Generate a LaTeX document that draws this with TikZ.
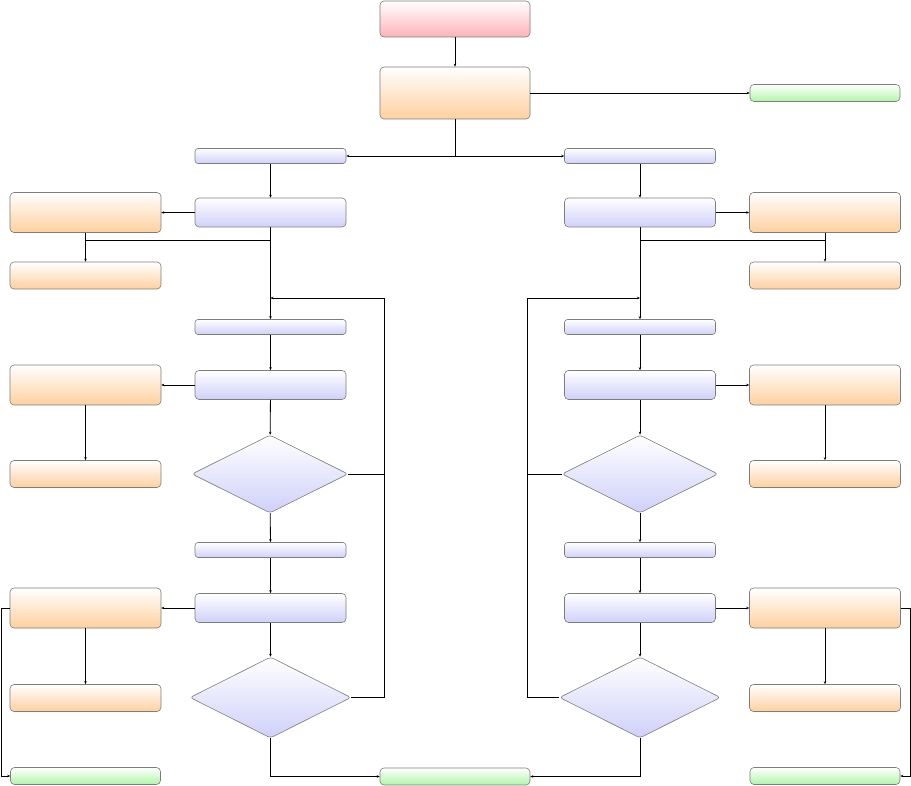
\documentclass[tikz,border=0pt]{standalone}
\usetikzlibrary{shapes.geometric,arrows.meta}
\definecolor{cred}{RGB}{255,178,184}
\definecolor{corange}{RGB}{255,208,158}
\definecolor{cblue}{RGB}{208,208,250}
\definecolor{cgreen}{RGB}{176,245,168}
\definecolor{cborder}{RGB}{125,125,125}
\tikzset{
  base/.style={draw=cborder, line width=0.6pt, rounded corners=4pt, inner sep=0pt, top color=white},
  redbox/.style={base, bottom color=cred, minimum width=150pt, minimum height=36pt},
  orabig/.style={base, bottom color=corange, minimum width=150pt, minimum height=52pt},
  orabox/.style={base, bottom color=corange, minimum width=151pt, minimum height=40pt},
  orasmall/.style={base, bottom color=corange, minimum width=151pt, minimum height=27pt},
  greenbox/.style={base, bottom color=cgreen, minimum width=150pt, minimum height=17pt},
  bluethin/.style={base, rounded corners=3pt, bottom color=cblue, minimum width=151pt, minimum height=15pt},
  bluebox/.style={base, bottom color=cblue, minimum width=151pt, minimum height=29pt},
  dec/.style={base, diamond, rounded corners=3pt, bottom color=cblue, minimum width=156pt, minimum height=78pt},
  decbig/.style={dec, minimum width=161pt, minimum height=81pt},
  arr/.style={-{Stealth[length=3pt,width=2.5pt]}, line width=0.8pt},
  ln/.style={line width=0.8pt}
}
\begin{document}
\begin{tikzpicture}[x=1pt,y=-1pt]
\useasboundingbox (0,0) rectangle (911,786);
% top
\node[redbox] (start) at (455,19) {};
\node[orabig] (top) at (455,93) {};
\node[greenbox] (gtop) at (825,93) {};
% left column
\node[bluethin] (L1) at (270.5,156) {};
\node[bluebox] (L2) at (270.5,212.5) {};
\node[orabox] (O1) at (85.5,212.5) {};
\node[orasmall] (O2) at (85.5,275.5) {};
\node[bluethin] (L3) at (270.5,327) {};
\node[bluebox] (L4) at (270.5,385) {};
\node[orabox] (O3) at (85.5,385) {};
\node[orasmall] (O4) at (85.5,474) {};
\node[dec] (D1) at (270,474) {};
\node[bluethin] (L5) at (270.5,550) {};
\node[bluebox] (L6) at (270.5,608) {};
\node[orabox] (O5) at (85.5,608) {};
\node[orasmall] (O6) at (85.5,698) {};
\node[decbig] (D2) at (270.5,697.5) {};
\node[greenbox] (gL) at (85.5,776) {};
\node[greenbox] (gB) at (455,776.5) {};
% right column
\node[bluethin] (R1) at (640,156) {};
\node[bluebox] (R2) at (640,212.5) {};
\node[orabox] (P1) at (825,212.5) {};
\node[orasmall] (P2) at (825,275.5) {};
\node[bluethin] (R3) at (640,327) {};
\node[bluebox] (R4) at (640,385) {};
\node[orabox] (P3) at (825,385) {};
\node[orasmall] (P4) at (825,474) {};
\node[dec] (E1) at (640,474) {};
\node[bluethin] (R5) at (640,550) {};
\node[bluebox] (R6) at (640,608) {};
\node[orabox] (P5) at (825,608) {};
\node[orasmall] (P6) at (825,698) {};
\node[decbig] (E2) at (640,697.5) {};
\node[greenbox] (gR) at (825,776) {};
% junction coordinates
\coordinate (j0) at (455,156);
\coordinate (jL) at (270.5,240);
\coordinate (jR) at (640,240);
\coordinate (lL) at (384,298);
\coordinate (mL) at (270.5,298);
\coordinate (lR) at (527,298);
\coordinate (mR) at (640,298);
\coordinate (xL) at (1,608);
\coordinate (xR) at (910,608);
% top connectors
\draw[arr] (start) -- (top);
\draw[arr] (top) -- (gtop);
\draw[arr] (top.south) -- (j0) -- (L1.east);
\draw[arr] (j0) -- (R1.west);
% left connectors
\draw[arr] (L1) -- (L2);
\draw[arr] (L2) -- (O1);
\draw[arr] (jL) -| (O2.north);
\draw[ln] (O1.south) -- (O1.south|-jL);
\draw[arr] (L2) -- (L3);
\draw[arr] (D1.east) -- (D1.east-|lL) -- (lL) -- (mL);
\draw[ln] (D2.east) -- (D2.east-|lL) -- (D1.east-|lL);
\draw[arr] (L3) -- (L4);
\draw[arr] (L4) -- (O3);
\draw[arr] (O3) -- (O4);
\draw[arr] (L4) -- (D1);
\draw[arr] (D1) -- (L5);
\draw[arr] (L5) -- (L6);
\draw[arr] (L6) -- (O5);
\draw[arr] (O5) -- (O6);
\draw[arr] (L6) -- (D2);
\draw[arr] (D2.south) |- (gB.west);
\draw[arr] (O5.west) -- (xL) |- (gL.west);
% right connectors
\draw[arr] (R1) -- (R2);
\draw[arr] (R2) -- (P1);
\draw[arr] (jR) -| (P2.north);
\draw[ln] (P1.south) -- (P1.south|-jR);
\draw[arr] (R2) -- (R3);
\draw[arr] (E1.west) -- (E1.west-|lR) -- (lR) -- (mR);
\draw[ln] (E2.west) -- (E2.west-|lR) -- (E1.west-|lR);
\draw[arr] (R3) -- (R4);
\draw[arr] (R4) -- (P3);
\draw[arr] (P3) -- (P4);
\draw[arr] (R4) -- (E1);
\draw[arr] (E1) -- (R5);
\draw[arr] (R5) -- (R6);
\draw[arr] (R6) -- (P5);
\draw[arr] (P5) -- (P6);
\draw[arr] (R6) -- (E2);
\draw[arr] (E2.south) |- (gB.east);
\draw[arr] (P5.east) -- (xR) |- (gR.east);
\end{tikzpicture}
\end{document}
